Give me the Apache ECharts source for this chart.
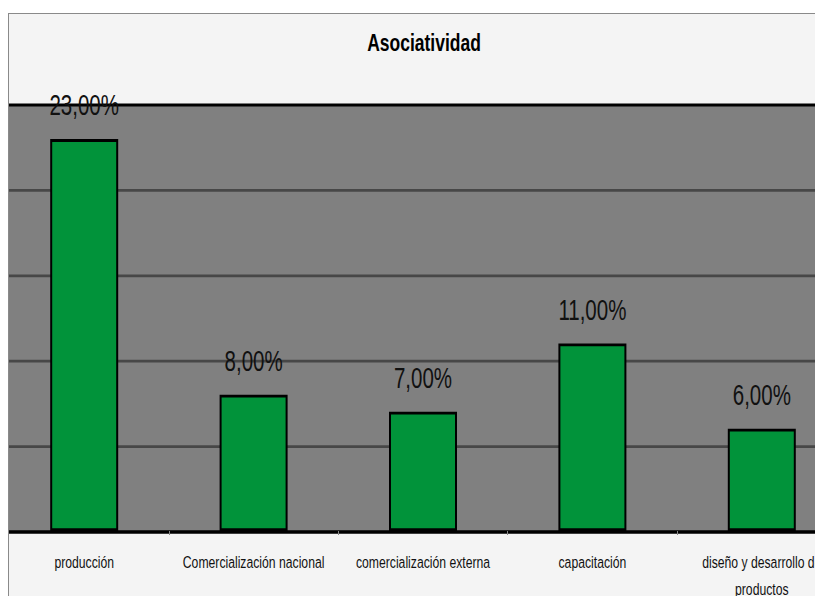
<!DOCTYPE html>
<html>
<head>
<meta charset="utf-8">
<script src="https://cdn.jsdelivr.net/npm/echarts@6/dist/echarts.min.js"></script>
<style>
  html, body { margin: 0; padding: 0; background: #ffffff; overflow: hidden; width: 815px; height: 596px; }
  #panel {
    position: absolute; left: 8px; top: 13px; width: 900px; height: 700px;
    background: #f4f4f4; border-left: 1px solid #8a8a8a; border-top: 1px solid #8a8a8a;
    overflow: hidden;
  }
  /* chart drawn in a short box, then stretched vertically */
  #chart {
    position: absolute; left: -10px; top: -14px; width: 850px; height: 430px;
    transform-origin: 0 0; transform: scaleY(1.4);
  }
</style>
</head>
<body>
<div id="panel"><div id="chart"></div></div>
<script>
const chartTitle = 'Asociatividad';
const categories = [
  'producción',
  'Comercialización nacional',
  'comercialización externa',
  'capacitación',
  'diseño y desarrollo de\nproductos'
];
const percentages = [23, 8, 7, 11, 6];
const axisMin = 0;
const axisMax = 25;
const axisStep = 5;

const S = 1.4; // vertical stretch applied by CSS
const chart = echarts.init(document.getElementById('chart'), null, { renderer: 'svg' });

chart.setOption({
  animation: false,
  backgroundColor: 'transparent',
  title: {
    text: chartTitle,
    left: 'center',
    top: 42 / S - 13,
    textStyle: { fontFamily: 'Liberation Sans, Arial, sans-serif', fontWeight: 'bold', fontSize: 17.5, color: '#000' }
  },
  grid: {
    left: 0.5, width: 847, top: 105 / S, height: 426 / S,
    outerBoundsMode: 'none', containLabel: false,
    show: true, backgroundColor: '#808080', borderWidth: 0
  },
  xAxis: {
    type: 'category',
    data: categories,
    boundaryGap: true,
    axisLine: { show: true, lineStyle: { color: '#000', width: 2 } },
    axisTick: { show: true, length: 4 / S, lineStyle: { color: '#888', width: 1 } },
    axisLabel: {
      interval: 0, margin: 12.5,
      fontFamily: 'Liberation Sans, Arial, sans-serif', fontSize: 12.2, color: '#111',
      lineHeight: 27 / S
    }
  },
  yAxis: {
    type: 'value', min: axisMin, max: axisMax, interval: axisStep,
    axisLine: { show: false }, axisTick: { show: false }, axisLabel: { show: false },
    splitLine: { show: true, lineStyle: { width: 2, color: ['#000', '#474747', '#474747', '#474747', '#474747', '#000'] } }
  },
  series: [{
    type: 'bar',
    data: percentages,
    barWidth: 68,
    itemStyle: { color: '#01933a', borderColor: '#000', borderWidth: 2 },
    label: {
      show: true, position: 'top', distance: 14,
      fontFamily: 'Liberation Sans, Arial, sans-serif', fontSize: 20.5, color: '#111',
      formatter: p => p.value.toFixed(2).replace('.', ',') + '%'
    }
  }]
});
</script>
</body>
</html>
